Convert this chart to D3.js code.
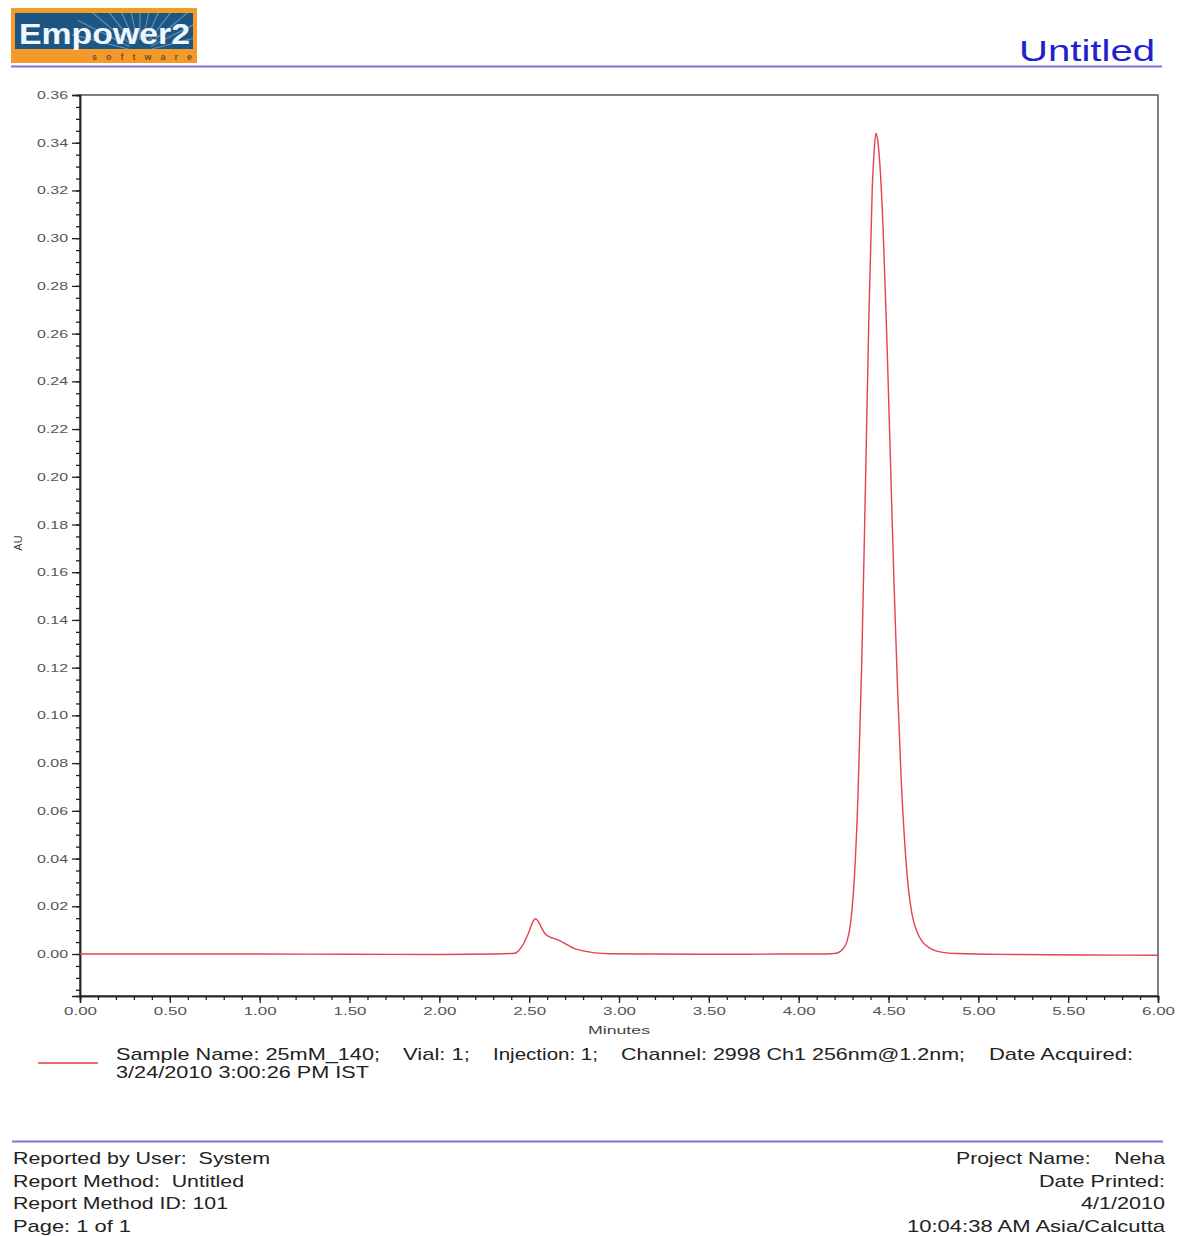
<!DOCTYPE html>
<html>
<head>
<meta charset="utf-8">
<script src="https://cdn.jsdelivr.net/npm/d3@7"></script>
<style>
  html, body { margin: 0; padding: 0; background: #fff; }
  svg { display: block; font-family: "Liberation Sans", Arial, sans-serif; }
</style>
</head>
<body>
<svg id="chart" width="1177" height="1236"></svg>
<script>
// ---- Data ----
const timeMin = [0.00, 0.50, 1.00, 1.50, 2.00, 2.30, 2.42, 2.44, 2.47, 2.50, 2.52, 2.535, 2.55, 2.57, 2.59, 2.616, 2.65, 2.70, 2.745, 2.80, 2.855, 2.95, 3.20, 3.60, 4.00, 4.15, 4.21, 4.23, 4.25, 4.27, 4.29, 4.31, 4.33, 4.35, 4.37, 4.39, 4.41, 4.42, 4.43, 4.44, 4.45, 4.47, 4.49, 4.51, 4.53, 4.55, 4.57, 4.59, 4.61, 4.63, 4.66, 4.69, 4.73, 4.78, 4.88, 5.20, 5.60, 6.00];
const absorbanceAU = [0.0000, 0.0000, 0.0000, -0.0001, -0.0002, 0.0000, 0.0003, 0.0013, 0.0045, 0.0095, 0.0135, 0.0148, 0.0138, 0.0108, 0.0084, 0.0071, 0.0062, 0.0044, 0.0025, 0.0013, 0.0006, 0.0001, 0.0000, -0.0001, 0.0000, 0.0000, 0.0003, 0.0010, 0.0025, 0.0055, 0.0135, 0.032, 0.066, 0.119, 0.190, 0.264, 0.322, 0.336, 0.344, 0.341, 0.333, 0.304, 0.260, 0.209, 0.157, 0.112, 0.074, 0.047, 0.028, 0.017, 0.009, 0.005, 0.0025, 0.0010, 0.0002, -0.0002, -0.0004, -0.0005];

const xMajorTicks = [0, 0.5, 1, 1.5, 2, 2.5, 3, 3.5, 4, 4.5, 5, 5.5, 6];
const xMinorTicks = d3.range(0, 61).map(i => i / 10);
const yMajorTicks = [0, 0.02, 0.04, 0.06, 0.08, 0.10, 0.12, 0.14, 0.16, 0.18, 0.20, 0.22, 0.24, 0.26, 0.28, 0.30, 0.32, 0.34, 0.36];
const yMinorTicks = d3.range(-3, 73).map(i => i * 0.005);

const xDomain = [0, 6];
const yDomain = [-0.0176, 0.36];

const legendItems = ["Sample Name: 25mM_140;", "Vial: 1;", "Injection: 1;", "Channel: 2998 Ch1 256nm@1.2nm;", "Date Acquired:"];
const legendLine2 = "3/24/2010 3:00:26 PM IST";
const footerLeft = ["Reported by User:  System", "Report Method:  Untitled", "Report Method ID: 101", "Page: 1 of 1"];
const footerRight = ["Project Name:    Neha", "Date Printed:", "4/1/2010", "10:04:38 AM Asia/Calcutta"];

// ---- Layout ----
const svg = d3.select("#chart");
const plot = { left: 80, right: 1158, top: 95, bottom: 996 };

svg.append("rect").attr("width", 1177).attr("height", 1236).attr("fill", "#fff");

// ---- Header: logo ----
const defs = svg.append("defs");
defs.append("clipPath").attr("id", "logoClip")
  .append("rect").attr("x", 15).attr("y", 13).attr("width", 178).attr("height", 36);

const logo = svg.append("g");
logo.append("rect").attr("x", 11).attr("y", 8).attr("width", 186).attr("height", 55).attr("fill", "#f39a2b");
logo.append("rect").attr("x", 15).attr("y", 13).attr("width", 178).attr("height", 36).attr("fill", "#1e5683");
// faint rays, clipped to the blue panel
const rayG = logo.append("g").attr("clip-path", "url(#logoClip)")
  .attr("stroke", "#8fb3cf").attr("stroke-width", 1.2).attr("opacity", 0.6);
d3.range(0, 13).forEach(i => {
  const ang = Math.PI * (0.08 + i * 0.07);
  rayG.append("line")
    .attr("x1", 140 + Math.cos(ang) * 12).attr("y1", 52 - Math.sin(ang) * 12)
    .attr("x2", 140 + Math.cos(ang) * 70).attr("y2", 52 - Math.sin(ang) * 70);
});
logo.append("text").attr("x", 19).attr("y", 44).attr("fill", "#eef6ff")
  .attr("font-size", 30).attr("font-weight", "bold")
  .attr("textLength", 171).attr("lengthAdjust", "spacingAndGlyphs")
  .text("Empower2");
logo.append("text").attr("x", 92).attr("y", 60).attr("fill", "#7a4e1a")
  .attr("font-size", 9).attr("font-weight", "bold")
  .attr("textLength", 100).attr("lengthAdjust", "spacing")
  .text("software");

// title
svg.append("text").attr("x", 1155).attr("y", 61).attr("text-anchor", "end")
  .attr("fill", "#2222cc").attr("font-size", 29)
  .attr("textLength", 136).attr("lengthAdjust", "spacingAndGlyphs")
  .text("Untitled");

svg.append("line").attr("x1", 11).attr("x2", 1162).attr("y1", 66.5).attr("y2", 66.5)
  .attr("stroke", "#7878d8").attr("stroke-width", 2);

// ---- Scales ----
const x = d3.scaleLinear().domain(xDomain).range([plot.left, plot.right]);
const y = d3.scaleLinear().domain(yDomain).range([plot.bottom, plot.top]);

// frame
svg.append("rect").attr("x", plot.left).attr("y", plot.top)
  .attr("width", plot.right - plot.left).attr("height", plot.bottom - plot.top)
  .attr("fill", "none").attr("stroke", "#555").attr("stroke-width", 1.5);

// ---- Axes ----
function styleTicks(g, len) {
  g.select(".domain").attr("stroke", "#222").attr("stroke-width", 1.5);
  g.selectAll(".tick line").attr("stroke", "#222").attr("stroke-width", 1.3);
  g.selectAll(".tick text").attr("fill", "#555").attr("font-size", 11)
    .attr("font-family", "'Liberation Sans', Arial, sans-serif")
    .attr("textLength", len).attr("lengthAdjust", "spacingAndGlyphs");
}

const yMinorAxis = svg.append("g").attr("transform", `translate(${plot.left},0)`)
  .call(d3.axisLeft(y).tickValues(yMinorTicks).tickSize(4).tickFormat(""));
styleTicks(yMinorAxis, 0);
const yAxis = svg.append("g").attr("transform", `translate(${plot.left},0)`)
  .call(d3.axisLeft(y).tickValues(yMajorTicks).tickSize(8).tickPadding(4).tickFormat(d3.format(".2f")));
styleTicks(yAxis, 31);

const xMinorAxis = svg.append("g").attr("transform", `translate(0,${plot.bottom})`)
  .call(d3.axisBottom(x).tickValues(xMinorTicks).tickSize(4).tickFormat(""));
styleTicks(xMinorAxis, 0);
const xAxis = svg.append("g").attr("transform", `translate(0,${plot.bottom})`)
  .call(d3.axisBottom(x).tickValues(xMajorTicks).tickSize(7).tickPadding(4).tickFormat(d3.format(".2f")));
styleTicks(xAxis, 33);

// axis titles
svg.append("text").attr("transform", "translate(22,543) rotate(-90)")
  .attr("text-anchor", "middle").attr("fill", "#444").attr("font-size", 11)
  .text("AU");
svg.append("text").attr("x", 619).attr("y", 1034).attr("text-anchor", "middle")
  .attr("fill", "#444").attr("font-size", 11)
  .attr("textLength", 62).attr("lengthAdjust", "spacingAndGlyphs")
  .text("Minutes");

// ---- Trace ----
const series = timeMin.map((t, i) => ({ t, v: absorbanceAU[i] }));
const line = d3.line().x(d => x(d.t)).y(d => y(d.v)).curve(d3.curveMonotoneX);
svg.append("path").datum(series).attr("d", line)
  .attr("fill", "none").attr("stroke", "#e4424f").attr("stroke-width", 1.4)
  .attr("stroke-linejoin", "round");

// ---- Legend ----
svg.append("line").attr("x1", 38).attr("x2", 98).attr("y1", 1063).attr("y2", 1063)
  .attr("stroke", "#ec6a72").attr("stroke-width", 2);
const legendX = [116, 403, 493, 621, 989];
const legendW = [264, 67, 105, 344, 144];
legendItems.forEach((s, i) => {
  svg.append("text").attr("x", legendX[i]).attr("y", 1060).attr("fill", "#222")
    .attr("font-size", 17).attr("textLength", legendW[i]).attr("lengthAdjust", "spacingAndGlyphs")
    .style("white-space", "pre").text(s);
});
svg.append("text").attr("x", 116).attr("y", 1078).attr("fill", "#222")
  .attr("font-size", 17).attr("textLength", 253).attr("lengthAdjust", "spacingAndGlyphs")
  .text(legendLine2);

// ---- Footer ----
svg.append("line").attr("x1", 12).attr("x2", 1163).attr("y1", 1141.5).attr("y2", 1141.5)
  .attr("stroke", "#7878d8").attr("stroke-width", 2);
const footLW = [257, 231, 215, 118];
footerLeft.forEach((s, i) => {
  svg.append("text").attr("x", 13).attr("y", 1164 + i * 22.5).attr("fill", "#222")
    .attr("font-size", 17).attr("textLength", footLW[i]).attr("lengthAdjust", "spacingAndGlyphs")
    .style("white-space", "pre").text(s);
});
const footRW = [209, 126, 84, 258];
footerRight.forEach((s, i) => {
  svg.append("text").attr("x", 1165).attr("y", 1164 + i * 22.5).attr("text-anchor", "end").attr("fill", "#222")
    .attr("font-size", 17).attr("textLength", footRW[i]).attr("lengthAdjust", "spacingAndGlyphs")
    .style("white-space", "pre").text(s);
});
</script>
</body>
</html>
